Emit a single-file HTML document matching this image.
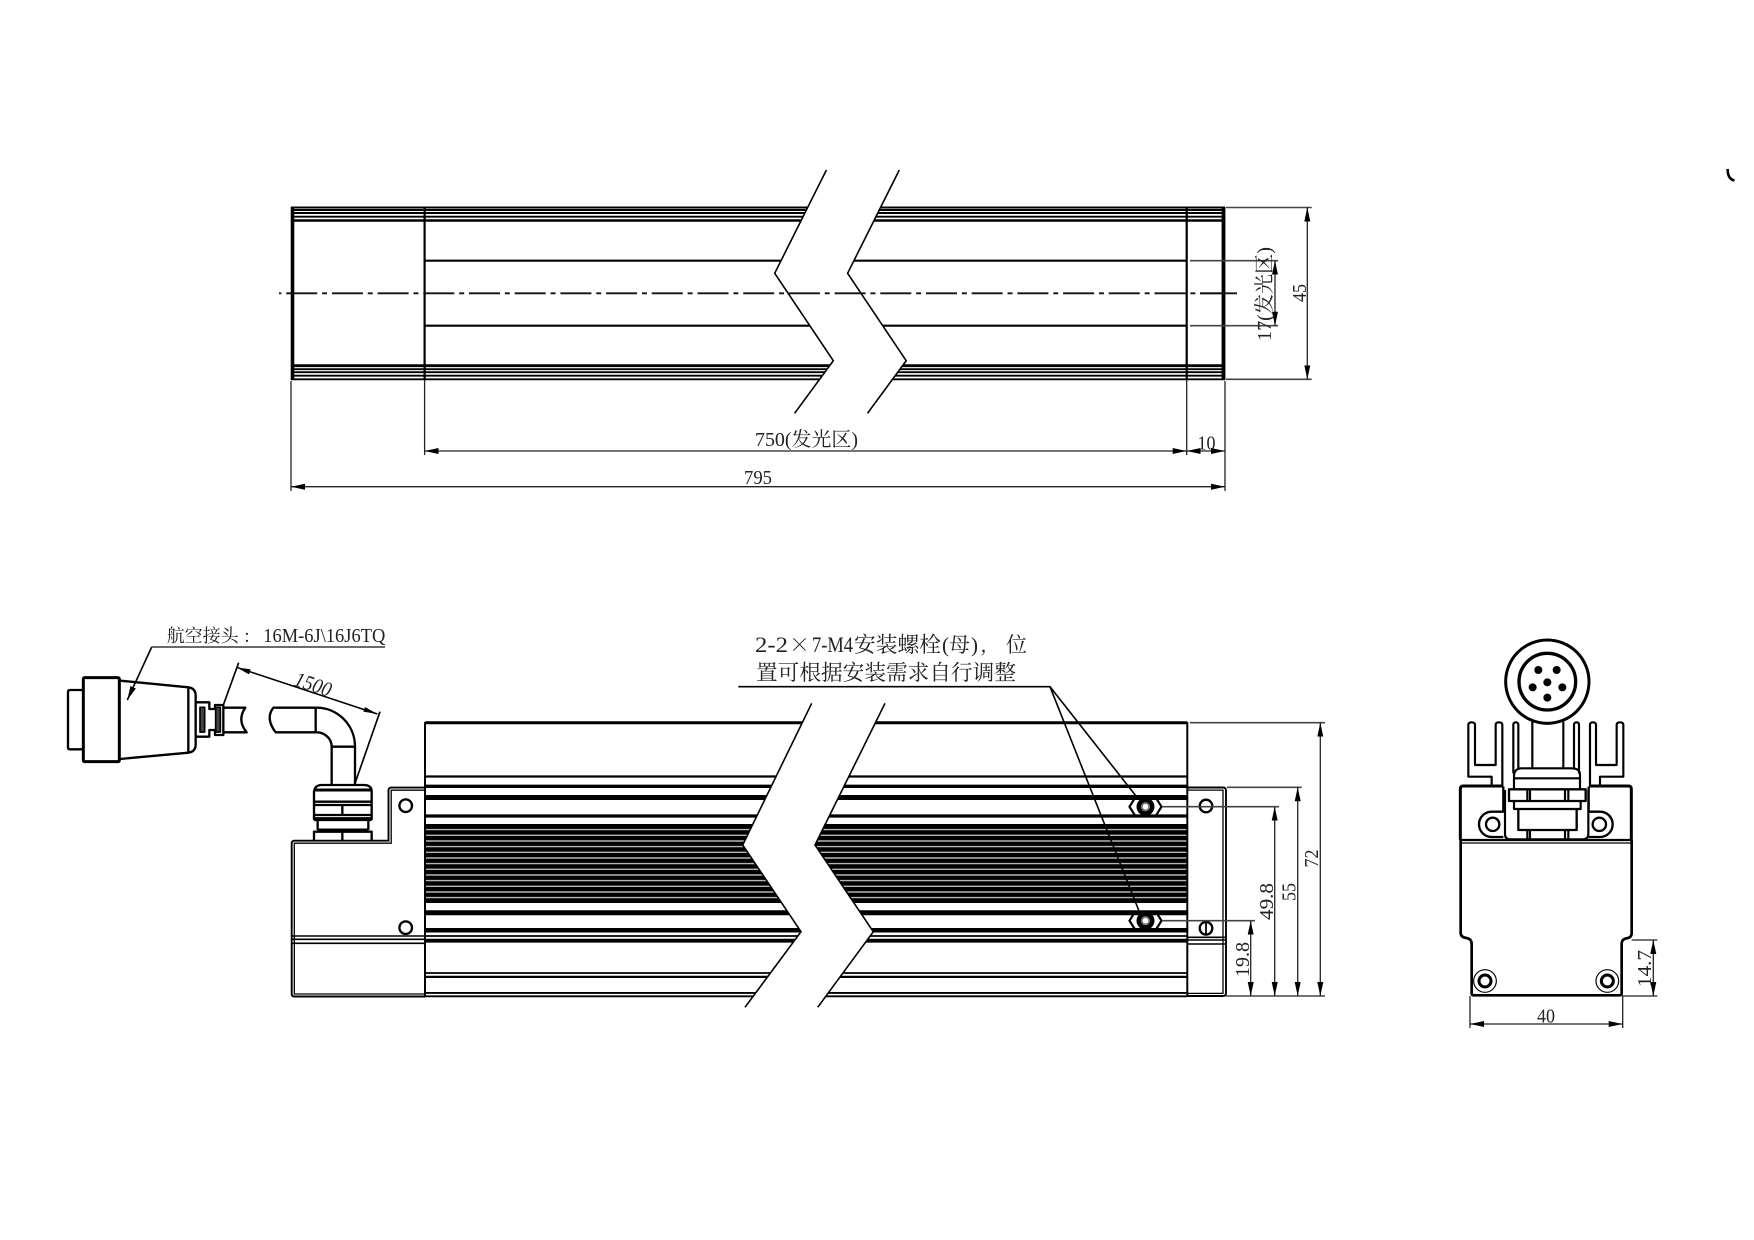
<!DOCTYPE html>
<html lang="zh">
<head>
<meta charset="utf-8">
<title>Drawing</title>
<style>
html,body{margin:0;padding:0;background:#fff}
svg{display:block}
text{font-family:"Liberation Serif","Noto Serif CJK SC",serif;fill:#222}
.c{font-family:"Noto Serif CJK SC","Liberation Serif",serif}
.k{stroke:#000;stroke-width:2;fill:none}
.t{stroke:#000;stroke-width:1.6;fill:none}
.d{stroke:#222;stroke-width:1.3;fill:none}
.g{stroke:#444;stroke-width:1.6;fill:none}
</style>
</head>
<body>
<svg xmlns="http://www.w3.org/2000/svg" width="1754" height="1240" viewBox="0 0 1754 1240">
<defs>
<marker id="a" viewBox="0 0 14 8" refX="14" refY="4" markerWidth="14" markerHeight="8" markerUnits="userSpaceOnUse" orient="auto-start-reverse"><path d="M0 1L14 4L0 7Z" fill="#000"/></marker>
</defs>
<rect width="1754" height="1240" fill="#fff"/>

<!-- TOP VIEW -->
<g class="k">
<path d="M291 207.5H1225M291 210H1225M291 213H1225M291 216.7H1225" stroke-width="1.9"/>
<path d="M291 220.5H1225" stroke-width="2.6"/>
<path d="M425 260.7H1187M425 325.7H1187" stroke-width="2.2"/>
<path d="M291 365.7H1225" stroke-width="2.8"/>
<path d="M291 369.2H1225M291 372.2H1225M291 375.7H1225M291 379.3H1225" stroke-width="1.9"/>
<path d="M292.5 207V380" stroke-width="3.6"/>
<path d="M1223.5 207V380" stroke-width="3.8"/>
<path d="M424.6 207V380M1186.7 207V380" stroke-width="2.2"/>
</g>
<polygon points="826.4,170 774.7,273.3 833.3,360.7 794.6,413.3 867.5,413.3 906.2,360.7 847.6,273.3 899.3,170" fill="#fff"/>
<path class="t" d="M826.4 170L774.7 273.3L833.3 360.7L794.6 413.3M899.3 170L847.6 273.3L906.2 360.7L867.5 413.3"/>
<line x1="279" y1="293.3" x2="1225" y2="293.3" stroke="#111" stroke-width="1.8" stroke-dasharray="31 4.85 5 4.85" stroke-dashoffset="38.5"/>
<path d="M1200 293.3H1237" stroke="#111" stroke-width="1.8" fill="none"/>

<!-- top dims -->
<path class="d" d="M424.6 380V455M1186.7 380V455M291 381V491M1225 381V491"/>
<line class="d" x1="424.6" y1="451" x2="1186.7" y2="451" marker-start="url(#a)" marker-end="url(#a)"/>
<line class="d" x1="1186.7" y1="451" x2="1225" y2="451" marker-start="url(#a)" marker-end="url(#a)"/>
<line class="d" x1="291" y1="486.7" x2="1225" y2="486.7" marker-start="url(#a)" marker-end="url(#a)"/>
<path class="g" d="M1226 207.5H1311.7M1226 379.3H1311.7M1190 260.7H1278M1190 325.7H1278"/>
<line class="d" x1="1307.3" y1="207.5" x2="1307.3" y2="379.3" marker-start="url(#a)" marker-end="url(#a)"/>
<line class="d" x1="1275" y1="260.7" x2="1275" y2="325.7" marker-start="url(#a)" marker-end="url(#a)"/>

<text x="755" y="446" font-size="20" textLength="103" lengthAdjust="spacingAndGlyphs">750(发光区)</text>
<text x="744" y="484" font-size="20" textLength="28" lengthAdjust="spacingAndGlyphs">795</text>
<text x="1197.5" y="449.5" font-size="20" textLength="18" lengthAdjust="spacingAndGlyphs">10</text>
<text transform="translate(1306 302) rotate(-90)" font-size="20" textLength="18" lengthAdjust="spacingAndGlyphs">45</text>
<text transform="translate(1271 341) rotate(-90)" font-size="20" textLength="94" lengthAdjust="spacingAndGlyphs">17(发光区)</text>

<!-- FRONT VIEW body -->
<g class="k">
<path d="M425 722.7H1187" stroke-width="3"/>
<path d="M425 776.5H1187" stroke-width="2.2"/>
<path d="M425 786.3H1187" stroke-width="3.4"/>
<path d="M425 797.5H1187" stroke-width="5"/>
<path d="M425 816H1187" stroke-width="3.2"/>
<path d="M425 912.7H1187" stroke-width="5"/>
<path d="M425 930.3H1187" stroke-width="4.5"/>
<path d="M425 936H1187" stroke-width="1.8"/>
<path d="M425 940.7H1187" stroke-width="3.8"/>
<path d="M425 973H1187" stroke-width="1.8"/>
<path d="M425 976.9H1187" stroke-width="2.2"/>
<path d="M425 992.9H1187" stroke-width="1.9"/>
<path d="M425 996.3H1187" stroke-width="1.9"/>
</g>
<rect x="425" y="824" width="762" height="79" fill="#000"/>
<path d="M425 829.6H1187M425 835.3H1187M425 841H1187M425 846.6H1187M425 852.3H1187M425 858H1187M425 863.6H1187M425 869.3H1187M425 875H1187M425 880.6H1187M425 886.3H1187M425 892H1187M425 897.6H1187" stroke="#b5b5b5" stroke-width="1.4" fill="none"/>

<polygon points="811.7,703.3 742.7,845 801,931.7 745,1007.3 817.7,1007.3 873.3,931.7 815,845 885,703.3" fill="#fff"/>
<path class="t" d="M811.7 703.3L742.7 845L801 931.7L745 1007.3M885 703.3L815 845L873.3 931.7L817.7 1007.3"/>

<path class="k" d="M425 722V997M1187.3 722V997" stroke-width="2.4"/>

<!-- left block -->
<g class="k">
<path d="M425 787.6H391.5Q388.5 787.6 388.5 790.6V840.7H294.5Q291.7 840.7 291.7 843.5V994Q291.7 996.5 294.5 996.5H425" stroke-width="1.9"/>
<path d="M425 790.2H391.2V843.2H294.3V994H425" stroke-width="1.3"/>
<path d="M292 936H425M292 939.3H425M292 943.3H425" stroke-width="1.6"/>
<circle cx="405.7" cy="805.7" r="6.3" stroke-width="2.3"/>
<circle cx="405.7" cy="927.7" r="6.3" stroke-width="2.3"/>
</g>
<!-- right end -->
<g class="k">
<path d="M1187 787.5H1223Q1226 787.5 1226 790.5V993Q1226 996 1223 996H1187" stroke-width="1.9"/>
<path d="M1187 790.1H1223V993.4H1187" stroke-width="1.3"/>
<path d="M1187 937.3H1226M1187 940H1226M1187 944H1226" stroke-width="1.6"/>
<circle cx="1206" cy="806" r="6.3" stroke-width="2.3"/>
<circle cx="1206" cy="928.3" r="6.3" stroke-width="2.3"/>
<path d="M1206 922V934.6" stroke-width="1.8"/>
</g>

<!-- bolts -->
<g>
<g transform="translate(1145.5 806.7)">
<path d="M-10 -8H-11L-16 0L-11 8H-10M10 -8H11L16 0L11 8H10" fill="none" stroke="#000" stroke-width="2.2"/>
<circle r="9" fill="#000"/><circle r="4.6" fill="#777"/><circle r="2.8" fill="#fff"/>
</g>
<g transform="translate(1145.5 920.7)">
<path d="M-10 -8H-11L-16 0L-11 8H-10M10 -8H11L16 0L11 8H10" fill="none" stroke="#000" stroke-width="2.2"/>
<circle r="9" fill="#000"/><circle r="4.6" fill="#777"/><circle r="2.8" fill="#fff"/>
</g>
</g>
<path class="t" d="M738.3 686.7H1050L1136 796M1050 686.7L1139 911" stroke-width="1.8"/>

<!-- front dims -->
<path class="g" d="M1190 722.7H1325M1227 787.3H1301.7M1161.7 806.7H1279M1161.7 920.7H1255"/>
<path class="d" d="M1226 996H1325"/>
<line class="d" x1="1320.3" y1="722.7" x2="1320.3" y2="996" marker-start="url(#a)" marker-end="url(#a)"/>
<line class="d" x1="1297.7" y1="787.3" x2="1297.7" y2="996" marker-start="url(#a)" marker-end="url(#a)"/>
<line class="d" x1="1274.7" y1="806.7" x2="1274.7" y2="996" marker-start="url(#a)" marker-end="url(#a)"/>
<line class="d" x1="1250.7" y1="920.7" x2="1250.7" y2="996" marker-start="url(#a)" marker-end="url(#a)"/>
<text transform="translate(1318 867.5) rotate(-90)" font-size="20" textLength="18" lengthAdjust="spacingAndGlyphs">72</text>
<text transform="translate(1295.5 901) rotate(-90)" font-size="20" textLength="18" lengthAdjust="spacingAndGlyphs">55</text>
<text transform="translate(1273 920) rotate(-90)" font-size="20" textLength="37" lengthAdjust="spacingAndGlyphs">49.8</text>
<text transform="translate(1249 977) rotate(-90)" font-size="20" textLength="35" lengthAdjust="spacingAndGlyphs">19.8</text>

<!-- notes -->
<text x="755" y="652" font-size="22" textLength="33" lengthAdjust="spacingAndGlyphs">2-2</text>
<text class="c" x="789" y="652" font-size="21">×</text>
<text x="812" y="652" font-size="22" textLength="41" lengthAdjust="spacingAndGlyphs">7-M4</text>
<text class="c" x="854" y="652" font-size="21.5" textLength="87" lengthAdjust="spacingAndGlyphs">安装螺栓</text>
<text x="942" y="652" font-size="21">(</text>
<text class="c" x="949" y="652" font-size="21">母</text>
<text x="971" y="652" font-size="21">)</text>
<text class="c" x="980" y="652" font-size="21">,</text>
<text class="c" x="1006" y="652" font-size="21">位</text>
<text class="c" x="756" y="680" font-size="21.5" textLength="260" lengthAdjust="spacingAndGlyphs">置可根据安装需求自行调整</text>

<text class="c" x="166.7" y="642" font-size="18" textLength="72" lengthAdjust="spacingAndGlyphs">航空接头</text>
<text class="c" x="244" y="642" font-size="18">:</text>
<text x="263.3" y="642" font-size="20" textLength="122" lengthAdjust="spacingAndGlyphs">16M-6J\16J6TQ</text>
<path d="M151.7 647H385" stroke="#555" stroke-width="1.8" fill="none"/>
<line class="t" x1="151.7" y1="647" x2="127.3" y2="700" marker-end="url(#a)"/>

<!-- connector (zoom coords) -->
<g transform="translate(50 610) scale(.33333)" fill="none" stroke="#000" stroke-width="7" stroke-linejoin="round">
<path d="M97 240H60Q54 240 54 246V412Q54 418 60 418H97"/>
<rect x="100" y="203" width="108" height="252" rx="4" stroke-width="9"/>
<path d="M210 212L415 232Q437 235 437 257V403Q437 425 415 428L210 447M415 232V428"/>
<path d="M437 277H478V297H495V285H520V375H495V360H478V380H437"/>
<rect x="450" y="292" width="14" height="74" fill="#444" stroke-width="5"/>
<rect x="497" y="292" width="14" height="74" fill="#444" stroke-width="5"/>
<path d="M520 293H586Q560 330 590 367H520"/>
<path d="M800 293H670Q645 325 677 367H800M797 293V367"/>
<path d="M800 293A115 117 0 0 1 915 410V522M800 367A45 43 0 0 1 845 410V522M845 410H915"/>
<path d="M520 285L566 158M915 520L990 305" stroke-width="5"/>
<line x1="560" y1="172" x2="982" y2="312" stroke-width="4.5"/>
<path d="M560 172L602 178L597 193ZM982 312L940 305L945 291Z" fill="#000" stroke="none"/>
<path d="M792 630V545Q795 525 815 525H942Q965 525 965 545V630M792 630H965"/>
<path d="M792 540H965" stroke-width="9"/>
<path d="M792 575H965M792 585H965M792 615H965M792 625H965"/>
<path d="M877 585V615"/>
<path d="M803 632V660M955 632V660"/>
<path d="M803 660H955" stroke-width="9"/>
<path d="M792 692V665H965V692M877 665V692"/>
</g>
<text transform="translate(293 685) rotate(18.5) scale(.9 1)" font-size="21" font-style="italic">1500</text>

<!-- SIDE VIEW (zoom coords) -->
<g transform="translate(1450 630) scale(.33333)" fill="none" stroke="#000" stroke-width="6.5" stroke-linejoin="round">
<circle cx="292" cy="155" r="125" stroke-width="9"/>
<circle cx="292" cy="155" r="85" stroke-width="10"/>
<g fill="#000" stroke="none">
<circle cx="265" cy="120" r="12"/><circle cx="320" cy="120" r="12"/>
<circle cx="248" cy="172" r="12"/><circle cx="337" cy="172" r="12"/>
<circle cx="292" cy="203" r="12"/><circle cx="292" cy="157" r="12"/>
</g>
<path d="M247 275V412M340 275V412"/>
<path d="M125 468V440H55V285Q55 277 65 277Q75 277 75 285V405H137V285Q137 277 147 277Q157 277 157 285V470"/>
<path d="M450 468V440H520V285Q520 277 510 277Q500 277 500 285V405H438V285Q438 277 429 277Q420 277 420 285V470"/>
<path d="M190 430V285Q190 277 197 277Q205 277 205 285V415"/>
<path d="M372 415V285Q372 277 380 277Q387 277 387 285V430"/>
<path d="M192 475V435Q195 415 215 415H365Q390 415 390 435V475M192 445H390"/>
<rect x="177" y="478" width="230" height="35" stroke-width="7"/>
<path d="M232 478V513M240 478V513M345 478V513M355 478V513"/>
<path d="M192 513V537H392V513"/>
<path d="M205 537V600H380V537" stroke-width="7"/>
<path d="M232 600V630M240 600V630M345 600V630M355 600V630"/>
<path d="M160 468H40Q31 468 31 477V630" stroke-width="9"/>
<path d="M417 468H535Q544 468 544 477V630" stroke-width="9"/>
<path d="M160 470V545H125A38 38 0 0 0 125 621H160M416 470V545H450A38 38 0 0 1 450 621H416" stroke-width="7"/>
<path d="M165 480V612Q165 628 180 628H398Q415 628 415 612V480"/>
<circle cx="128" cy="583" r="20" stroke-width="7"/>
<circle cx="448" cy="583" r="20" stroke-width="7"/>
<path d="M30 630H546" stroke-width="7"/>
<path d="M30 639H546" stroke-width="4"/>
<path d="M32 630V910Q33 922 50 924Q65 927 65 942V1090Q65 1096 72 1096H508Q515 1096 515 1090V942Q515 927 530 925Q545 922 545 910V630" stroke-width="8"/>
<circle cx="105" cy="1053" r="34" stroke-width="3.5"/>
<circle cx="105" cy="1053" r="18" stroke-width="9"/>
<circle cx="472" cy="1053" r="34" stroke-width="3.5"/>
<circle cx="472" cy="1053" r="18" stroke-width="9"/>
</g>

<!-- side dims -->
<path class="d" d="M1470 996V1028M1622.7 996V1028M1631.7 940H1657.3M1622 996H1657.3"/>
<line class="d" x1="1470" y1="1024" x2="1622.7" y2="1024" marker-start="url(#a)" marker-end="url(#a)"/>
<line class="d" x1="1653.3" y1="940" x2="1653.3" y2="996" marker-start="url(#a)" marker-end="url(#a)"/>
<text x="1537" y="1022.5" font-size="20" textLength="18" lengthAdjust="spacingAndGlyphs">40</text>
<text transform="translate(1651 987) rotate(-90)" font-size="20" textLength="37" lengthAdjust="spacingAndGlyphs">14.7</text>

<!-- corner fragment -->
<path d="M1727.7 169Q1727.5 179 1734.5 180.5" fill="none" stroke="#000" stroke-width="2.6"/>
</svg>
</body>
</html>
